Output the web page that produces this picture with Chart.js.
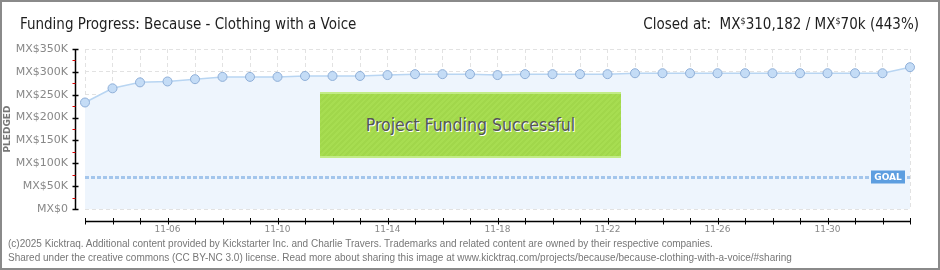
<!DOCTYPE html>
<html>
<head>
<meta charset="utf-8">
<script src="https://cdn.jsdelivr.net/npm/chart.js@4"></script>
<style>
  html, body { margin: 0; padding: 0; background: #fff; }
  #frame { position: relative; width: 940px; height: 270px; box-sizing: border-box; border: 2px solid #8a8a8a; overflow: hidden; }
  #chart { position: absolute; left: -2px; top: -2px; }
  .titre { position: absolute; top: 13px; font-family: "DejaVu Sans Condensed", "DejaVu Sans", sans-serif; font-size: 15px; color: #1e1e1e; white-space: nowrap; }
  #titre-gauche { left: 18px; }
  #titre-droite { right: 19px; }
  #titre-droite sup { font-size: 9px; vertical-align: 5px; }
  #succes { position: absolute; left: 318px; top: 90px; width: 301px; height: 62px;
    border-top: 2px solid #c2ec86; border-bottom: 2px solid #c2ec86;
    background: repeating-linear-gradient(-45deg, #a7dd51 0px, #a7dd51 2px, #a1d74b 2px, #a1d74b 4px);
    display: flex; align-items: center; justify-content: center;
    font-family: "DejaVu Sans Condensed", sans-serif; font-size: 17.5px; color: #555; text-shadow: 1px 1px 0 #fff; }
  #pied { position: absolute; left: 6px; top: 235px; font-family: "Liberation Sans", sans-serif; font-size: 10px; line-height: 14px; color: #777; white-space: nowrap; }
</style>
</head>
<body>
<div id="frame">
  <canvas id="chart" width="940" height="270"></canvas>
  <div class="titre" id="titre-gauche">Funding Progress: Because - Clothing with a Voice</div>
  <div class="titre" id="titre-droite">Closed at:&nbsp; MX<sup>$</sup>310,182 / MX<sup>$</sup>70k (443%)</div>
  <div id="succes">Project Funding Successful</div>
  <div id="pied">(c)2025 Kicktraq. Additional content provided by Kickstarter Inc. and Charlie Travers. Trademarks and related content are owned by their respective companies.<br>Shared under the creative commons (CC BY-NC 3.0) license. Read more about sharing this image at www.kicktraq.com/projects/because/because-clothing-with-a-voice/#sharing</div>
</div>
<script>
// Données
const jours = ['11-03','11-04','11-05','11-06','11-07','11-08','11-09','11-10','11-11','11-12',
               '11-13','11-14','11-15','11-16','11-17','11-18','11-19','11-20','11-21','11-22',
               '11-23','11-24','11-25','11-26','11-27','11-28','11-29','11-30','12-01','12-02','12-03'];
const promesses = [233000, 264000, 277000, 279000, 284000, 289000, 289000, 289000, 291000, 291000,
                   291000, 293000, 295000, 295000, 295000, 293000, 295000, 295000, 295000, 295000,
                   297000, 297000, 297000, 297000, 297000, 297000, 297000, 297000, 297000, 297000, 310182];
const objectif = 70000;
const graduationsY = [0, 50000, 100000, 150000, 200000, 250000, 300000, 350000];

// Axes dessinés à la main (ligne noire, petites marques rouges) + ligne d'objectif
const axesPerso = {
    id: 'axesPerso',
    afterDatasetsDraw(chart) {
        const ctx = chart.ctx;
        const x = chart.scales.x, y = chart.scales.y;
        const area = chart.chartArea;
        ctx.save();

        // ligne objectif
        const yObj = Math.round(y.getPixelForValue(objectif)) + 0.5;
        ctx.strokeStyle = '#a4c6ec';
        ctx.lineWidth = 3;
        ctx.setLineDash([4, 2]);
        ctx.beginPath();
        ctx.moveTo(area.left, yObj);
        ctx.lineTo(area.right, yObj);
        ctx.stroke();
        ctx.setLineDash([]);

        // étiquette GOAL
        ctx.fillStyle = '#5d9ee0';
        ctx.fillRect(area.right - 39, yObj - 7, 34, 13);
        ctx.fillStyle = '#fff';
        ctx.font = 'bold 9px "DejaVu Sans"';
        ctx.textAlign = 'center';
        ctx.textBaseline = 'middle';
        ctx.fillText('GOAL', area.right - 22, yObj);

        // axe Y
        const ax = area.left - 9.5;
        ctx.strokeStyle = '#000';
        ctx.lineWidth = 1.5;
        ctx.beginPath();
        ctx.moveTo(ax, y.getPixelForValue(350000));
        ctx.lineTo(ax, y.getPixelForValue(0));
        ctx.stroke();
        graduationsY.forEach(v => {
            const py = Math.round(y.getPixelForValue(v)) + 0.5;
            ctx.beginPath();
            ctx.moveTo(ax - 3, py);
            ctx.lineTo(ax + 3, py);
            ctx.stroke();
        });
        ctx.strokeStyle = '#e00000';
        ctx.lineWidth = 1;
        for (let v = 25000; v < 350000; v += 50000) {
            const py = Math.round(y.getPixelForValue(v)) + 0.5;
            ctx.beginPath();
            ctx.moveTo(ax - 3, py);
            ctx.lineTo(ax, py);
            ctx.stroke();
        }

        // axe X
        const ay = area.bottom + 12.5;
        ctx.strokeStyle = '#000';
        ctx.lineWidth = 1.5;
        ctx.beginPath();
        ctx.moveTo(x.getPixelForValue(0), ay);
        ctx.lineTo(x.getPixelForValue(jours.length - 1), ay);
        ctx.stroke();
        ctx.lineWidth = 1;
        jours.forEach((j, i) => {
            const px = Math.round(x.getPixelForValue(i)) + 0.5;
            ctx.beginPath();
            ctx.moveTo(px, ay - 3.5);
            ctx.lineTo(px, ay + 3);
            ctx.stroke();
        });
        ctx.restore();
    }
};

new Chart(document.getElementById('chart'), {
    type: 'line',
    data: {
        labels: jours,
        datasets: [{
            data: promesses,
            borderColor: '#b8d5f2',
            borderWidth: 1.5,
            backgroundColor: '#eef5fd',
            fill: 'origin',
            tension: 0,
            pointRadius: 4.5,
            pointBackgroundColor: '#c4dcf6',
            pointBorderColor: '#8fafd8',
            pointBorderWidth: 1
        }]
    },
    options: {
        responsive: false,
        animation: false,
        devicePixelRatio: 1,
        layout: { padding: { top: 49, left: 0, right: 30, bottom: 31 } },
        plugins: { legend: { display: false }, tooltip: { enabled: false } },
        scales: {
            x: {
                afterFit: s => { s.height = 30; },
                grid: { color: '#e2e2e2', drawTicks: false },
                border: { display: false, dash: [4, 3] },
                ticks: {
                    autoSkip: false,
                    maxRotation: 0,
                    padding: 15,
                    color: '#888',
                    font: { family: 'DejaVu Sans', size: 9 },
                    callback: (v, i) => ((i - 3) % 4 === 0 ? jours[i] : '')
                }
            },
            y: {
                min: 0,
                max: 350000,
                afterFit: s => { s.width = 85; },
                afterBuildTicks: s => { s.ticks = graduationsY.map(v => ({ value: v })); },
                grid: { color: '#e2e2e2', drawTicks: false },
                border: { display: false, dash: [4, 3] },
                title: {
                    display: true,
                    text: 'PLEDGED',
                    color: '#777',
                    padding: 2,
                    font: { family: 'DejaVu Sans', size: 9, weight: 'bold' }
                },
                ticks: {
                    padding: 17,
                    color: '#888',
                    font: { family: 'DejaVu Sans', size: 11 },
                    callback: v => (v === 0 ? 'MX$0' : 'MX$' + (v / 1000) + 'K')
                }
            }
        }
    },
    plugins: [axesPerso]
});
</script>
</body>
</html>
